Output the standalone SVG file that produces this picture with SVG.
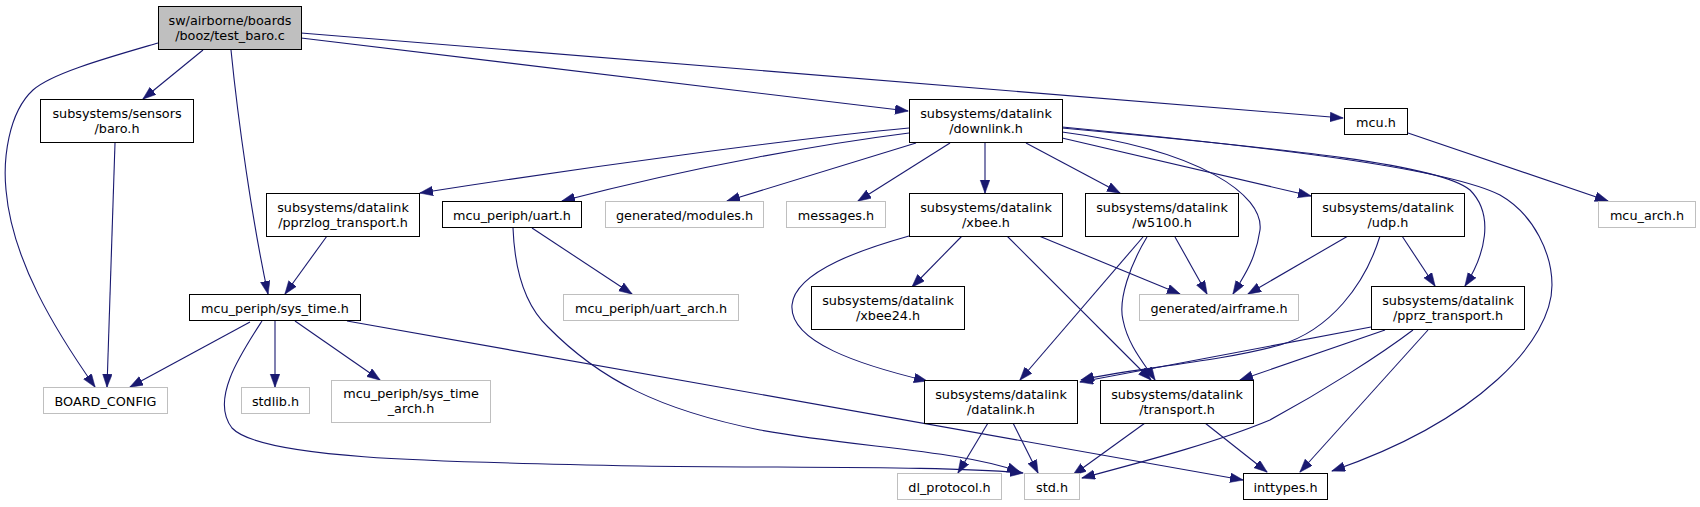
<svg xmlns="http://www.w3.org/2000/svg" width="1700" height="507" viewBox="0 0 1700 507">
<style>
.n rect{fill:#ffffff;stroke:#000000;stroke-width:1}
.n.g rect{stroke:#bfbfbf}
.n.r rect{fill:#bfbfbf}
.n text{font-family:"DejaVu Sans","Liberation Sans",sans-serif;font-size:12.8px;fill:#000;text-anchor:middle}
#edges path{fill:none;stroke:#191970;stroke-width:1.1;marker-end:url(#ah)}
</style>
<defs>
<marker id="ah" markerUnits="userSpaceOnUse" markerWidth="14" markerHeight="11" refX="13" refY="4.8" orient="auto">
<path d="M0,0 L13.3,4.8 L0,9.6 z" fill="#191970" stroke="#191970" stroke-width="0.5"/>
</marker>
</defs>
<rect width="1700" height="507" fill="#ffffff"/>
<g id="edges">
<path d="M158,43 C110,57 52,73 33,90 C8,113 3,160 6,190 C12,260 55,330 95,387"/>
<path d="M203,50 L143,99"/>
<path d="M231,50 C238,120 252,220 268,294"/>
<path d="M301,38 L908,111"/>
<path d="M301,33 L1343,118"/>
<path d="M115,143 L107,387"/>
<path d="M327,236 L285,294"/>
<path d="M909,128 C800,138 600,165 420,193"/>
<path d="M909,133 C830,143 700,165 562,201"/>
<path d="M916,143 L727,201"/>
<path d="M950,143 L858,201"/>
<path d="M985,143 L985,193"/>
<path d="M1026,143 L1120,193"/>
<path d="M1062,132 C1200,150 1264,195 1260,230 C1256,258 1245,275 1233,294"/>
<path d="M1062,138 L1311,196"/>
<path d="M1062,128 C1300,150 1440,165 1470,190 C1495,215 1485,255 1465,286"/>
<path d="M1062,127 C1300,150 1450,170 1500,195 C1535,215 1552,255 1552,285 C1552,340 1480,420 1332,471"/>
<path d="M1408,133 L1608,201"/>
<path d="M532,228 L632,294"/>
<path d="M513,228 C515,280 530,310 548,327 C600,380 660,410 760,430 C860,448 960,450 1020,472"/>
<path d="M250,322 L130,387"/>
<path d="M275,321 L275,387"/>
<path d="M295,321 L380,380"/>
<path d="M347,321 L1243,480"/>
<path d="M262,321 C240,355 210,400 232,428 C260,458 420,462 640,466 C800,468 950,466 1023,473"/>
<path d="M962,236 L912,287"/>
<path d="M909,236 C870,247 795,270 792,305 C789,342 860,365 927,381"/>
<path d="M1007,236 L1151,380"/>
<path d="M1039,236 L1180,294"/>
<path d="M1143,237 L1020,380"/>
<path d="M1147,237 C1130,265 1118,300 1123,320 C1128,345 1143,362 1155,380"/>
<path d="M1175,237 L1207,294"/>
<path d="M1348,236 L1248,294"/>
<path d="M1380,236 C1365,285 1330,330 1280,345 C1220,362 1120,370 1081,380"/>
<path d="M1402,236 L1435,286"/>
<path d="M1371,327 L1080,382"/>
<path d="M1385,330 L1240,380"/>
<path d="M1413,330 C1380,355 1325,390 1270,420 C1210,445 1130,465 1082,478"/>
<path d="M1428,330 L1300,472"/>
<path d="M988,423 L958,473"/>
<path d="M1013,423 L1038,473"/>
<path d="M1145,423 L1073,475"/>
<path d="M1205,423 L1267,472"/>
</g>
<g id="n_test" class="n r"><rect x="158.5" y="6.5" width="143" height="43"/><text x="230" y="24.5">sw/airborne/boards</text><text x="230" y="39.5">/booz/test_baro.c</text></g>
<g id="n_baro" class="n"><rect x="40.5" y="99.5" width="153" height="43"/><text x="117" y="117.5">subsystems/sensors</text><text x="117" y="132.5">/baro.h</text></g>
<g id="n_downlink" class="n"><rect x="909.5" y="99.5" width="153" height="43"/><text x="986" y="117.5">subsystems/datalink</text><text x="986" y="132.5">/downlink.h</text></g>
<g id="n_mcu" class="n"><rect x="1344.5" y="108.5" width="63" height="26"/><text x="1376" y="126.5">mcu.h</text></g>
<g id="n_mcuarch" class="n g"><rect x="1598.5" y="201.5" width="97" height="26"/><text x="1647" y="219.5">mcu_arch.h</text></g>
<g id="n_pprzlog" class="n"><rect x="266.5" y="193.5" width="153" height="43"/><text x="343" y="211.5">subsystems/datalink</text><text x="343" y="226.5">/pprzlog_transport.h</text></g>
<g id="n_uart" class="n"><rect x="442.5" y="201.5" width="139" height="26"/><text x="512" y="219.5">mcu_periph/uart.h</text></g>
<g id="n_modules" class="n g"><rect x="605.5" y="201.5" width="158" height="26"/><text x="684.5" y="219.5">generated/modules.h</text></g>
<g id="n_messages" class="n g"><rect x="786.5" y="201.5" width="99" height="26"/><text x="836" y="219.5">messages.h</text></g>
<g id="n_xbee" class="n"><rect x="909.5" y="193.5" width="153" height="43"/><text x="986" y="211.5">subsystems/datalink</text><text x="986" y="226.5">/xbee.h</text></g>
<g id="n_w5100" class="n"><rect x="1085.5" y="193.5" width="153" height="43"/><text x="1162" y="211.5">subsystems/datalink</text><text x="1162" y="226.5">/w5100.h</text></g>
<g id="n_udp" class="n"><rect x="1311.5" y="193.5" width="153" height="43"/><text x="1388" y="211.5">subsystems/datalink</text><text x="1388" y="226.5">/udp.h</text></g>
<g id="n_systime" class="n"><rect x="189.5" y="294.5" width="171" height="26"/><text x="275" y="312.5">mcu_periph/sys_time.h</text></g>
<g id="n_uartarch" class="n g"><rect x="563.5" y="294.5" width="175" height="26"/><text x="651" y="312.5">mcu_periph/uart_arch.h</text></g>
<g id="n_xbee24" class="n"><rect x="811.5" y="286.5" width="153" height="43"/><text x="888" y="304.5">subsystems/datalink</text><text x="888" y="319.5">/xbee24.h</text></g>
<g id="n_airframe" class="n g"><rect x="1139.5" y="294.5" width="159" height="26"/><text x="1219" y="312.5">generated/airframe.h</text></g>
<g id="n_pprz" class="n"><rect x="1371.5" y="286.5" width="153" height="43"/><text x="1448" y="304.5">subsystems/datalink</text><text x="1448" y="319.5">/pprz_transport.h</text></g>
<g id="n_board" class="n g"><rect x="43.5" y="387.5" width="124" height="26"/><text x="105.5" y="405.5">BOARD_CONFIG</text></g>
<g id="n_stdlib" class="n g"><rect x="241.5" y="387.5" width="68" height="26"/><text x="275.5" y="405.5">stdlib.h</text></g>
<g id="n_systimearch" class="n g"><rect x="331.5" y="380.5" width="159" height="42"/><text x="411" y="398">mcu_periph/sys_time</text><text x="411" y="413">_arch.h</text></g>
<g id="n_datalink" class="n"><rect x="924.5" y="380.5" width="153" height="43"/><text x="1001" y="398.5">subsystems/datalink</text><text x="1001" y="413.5">/datalink.h</text></g>
<g id="n_transport" class="n"><rect x="1100.5" y="380.5" width="153" height="43"/><text x="1177" y="398.5">subsystems/datalink</text><text x="1177" y="413.5">/transport.h</text></g>
<g id="n_dlprot" class="n g"><rect x="897.5" y="473.5" width="104" height="26"/><text x="949.5" y="491.5">dl_protocol.h</text></g>
<g id="n_std" class="n g"><rect x="1024.5" y="473.5" width="55" height="26"/><text x="1052" y="491.5">std.h</text></g>
<g id="n_inttypes" class="n"><rect x="1243.5" y="473.5" width="84" height="26"/><text x="1285.5" y="491.5">inttypes.h</text></g>
</svg>
